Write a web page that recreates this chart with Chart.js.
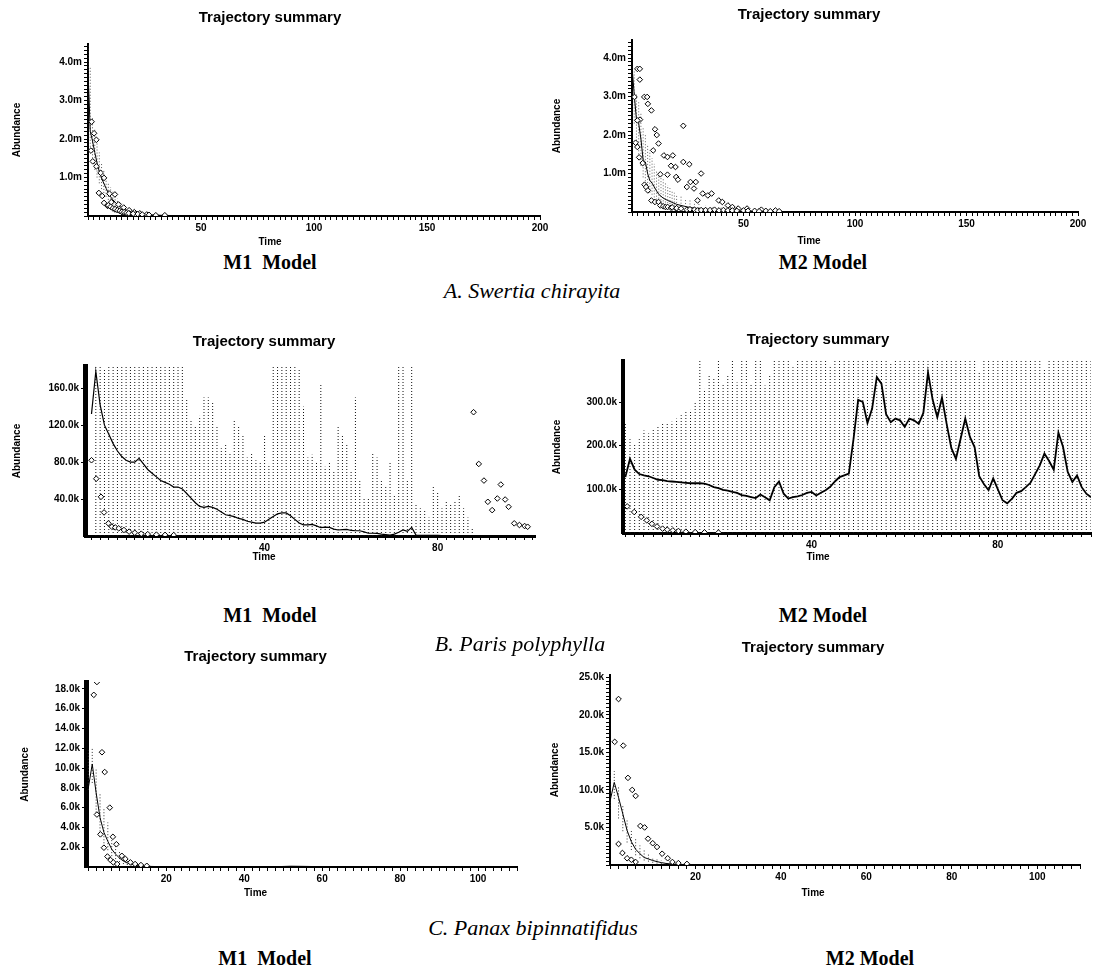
<!DOCTYPE html>
<html>
<head>
<meta charset="utf-8">
<title>Trajectory summary</title>
<script src="https://cdn.jsdelivr.net/npm/chart.js@4.4.1/dist/chart.umd.min.js"></script>
<style>
	html, body { margin: 0; padding: 0; background: #fff; }
	body { width: 1096px; height: 969px; position: relative; overflow: hidden; }
	canvas { position: absolute; }
	.cap { position: absolute; transform: translate(-50%, -50%); white-space: pre; color: #000;
		font-family: "Liberation Serif", "Times New Roman", serif; }
	.model { font-weight: bold; font-size: 20px; }
	.species { font-style: italic; font-size: 22px; }
</style>
</head>
<body>
<canvas id="a1"></canvas>
<canvas id="a2"></canvas>
<canvas id="b1"></canvas>
<canvas id="b2"></canvas>
<canvas id="c1"></canvas>
<canvas id="c2"></canvas>

<div class="cap model" style="left:270px;top:262px">M1  Model</div>
<div class="cap model" style="left:823px;top:262px">M2 Model</div>
<div class="cap species" style="left:532px;top:291px">A. Swertia chirayita</div>
<div class="cap model" style="left:270px;top:615px">M1  Model</div>
<div class="cap model" style="left:823px;top:615px">M2 Model</div>
<div class="cap species" style="left:520px;top:644px">B. Paris polyphylla</div>
<div class="cap species" style="left:533px;top:928px">C. Panax bipinnatifidus</div>
<div class="cap model" style="left:265px;top:958px">M1  Model</div>
<div class="cap model" style="left:870px;top:958px">M2 Model</div>

<script>
// ---- Swertia chirayita (abundance in millions) ----
// mean trajectory: [time, abundance]
const meanA1 = [[0,3.78],[1,2.2],[2,1.95],[3,1.65],[4,1.38],[5,1.15],[6,0.98],[7,0.85],[8,0.72],[9,0.6],
	[10,0.5],[11,0.42],[12,0.36],[13,0.3],[14,0.25],[15,0.21],[16,0.18],[17,0.15],[18,0.12],[19,0.1],
	[20,0.085],[22,0.06],[24,0.045],[26,0.035],[28,0.028],[30,0.022],[35,0.014],[40,0.01],[50,0.007],
	[60,0.006],[70,0.006],[80,0.008],[90,0.01],[100,0.006],[120,0.004],[140,0.004],[160,0.004],[180,0.004],[200,0.004]]
// spread between runs: [time, low, high]
const rangeA1 = [[0,3.0,4.45],[1,1.8,3.85],[2,1.5,2.55],[3,1.2,2.25],[4,1.0,1.95],[5,0.85,1.65],[6,0.7,1.4],
	[7,0.6,1.2],[8,0.5,1.02],[9,0.42,0.88],[10,0.35,0.75],[11,0.3,0.63],[12,0.25,0.53],[13,0.21,0.45],
	[14,0.18,0.38],[15,0.15,0.32],[16,0.13,0.27],[18,0.1,0.2],[20,0.07,0.14],[22,0.05,0.11],[25,0.035,0.07],[30,0.02,0.04]]
const obsA1 = [[1.6,2.45],[2.7,2.15],[3.7,1.98],[1.3,1.7],[2.1,1.42],[3.7,1.29],[5.6,1.12],[7.1,0.99],
	[4.8,0.6],[6.3,0.52],[9.5,0.58],[11.9,0.56],[10.3,0.36],[13.5,0.3],[15.8,0.22],[18.2,0.15],[20.5,0.1],
	[22.9,0.07],[26,0.04],[7.1,0.34],[8.7,0.26],[11.9,0.17],[15,0.1],[18.2,0.07],[21,0.04],
	[9,0.28],[10,0.24],[11,0.2],[12,0.18],[13,0.15],[14,0.13],[15,0.11],[16,0.1],[17,0.08],[18,0.07],
	[20,0.06],[22,0.05],[24,0.04],[27,0.03],[30,0.02],[34,0.02]]

const meanA2 = [[0,3.78],[1,3.05],[2,2.4],[3,2.3],[4,1.9],[5,1.35],[6,1.3],[7,1.0],[8,0.82],[9,0.75],
	[10,0.65],[11,0.55],[12,0.46],[14,0.36],[16,0.3],[18,0.25],[20,0.2],[22,0.17],[25,0.13],[28,0.1],
	[30,0.09],[35,0.06],[40,0.045],[45,0.03],[50,0.022],[55,0.016],[60,0.011],[70,0.006],[80,0.004],
	[100,0.003],[150,0.003],[200,0.003]]
const rangeA2 = [[1,2.3,3.7],[2,1.7,3.1],[3,1.5,2.9],[4,1.2,2.6],[5,0.9,2.2],[6,0.8,2.0],[7,0.6,1.75],
	[8,0.5,1.6],[9,0.45,1.4],[10,0.38,1.25],[11,0.32,1.1],[12,0.27,1.0],[13,0.23,0.9],[14,0.2,0.85],
	[15,0.17,0.75],[16,0.15,0.7],[17,0.13,0.62],[18,0.11,0.55],[19,0.09,0.5],[20,0.08,0.45],[22,0.06,0.4],
	[24,0.05,0.35],[26,0.04,0.3],[28,0.03,0.26],[30,0.025,0.22],[33,0.02,0.18],[36,0.015,0.15],
	[40,0.01,0.12],[45,0.008,0.09],[50,0.006,0.07],[55,0.004,0.05],[60,0.003,0.04]]
const obsA2 = [[2.4,3.72],[3.5,3.72],[3.5,3.44],[1.1,2.99],[5.5,2.99],[6.8,2.99],[7.1,2.81],[8.7,2.64],
	[3.6,2.4],[2.4,2.38],[10.3,2.15],[11.1,2.0],[11.9,1.78],[1.6,1.8],[2.4,1.69],[9.5,1.6],
	[3.2,1.42],[4.8,1.27],[14.3,1.47],[15.9,1.43],[18.3,1.47],[17.5,1.2],[19.5,1.17],[23,1.3],
	[25.7,1.24],[31,1.0],[23,2.24],[12.7,0.98],[15.9,0.97],[19.8,0.91],[20.6,0.84],[26.2,0.78],
	[28.6,0.78],[24.6,0.65],[27.8,0.61],[5.6,0.71],[6.3,0.65],[7.1,0.56],[31.7,0.48],[34,0.43],
	[35.7,0.48],[8.7,0.3],[10.3,0.26],[11.9,0.26],[38.9,0.3],[40.5,0.26],[29.4,0.3],[43,0.17],
	[45,0.13],[47.6,0.09],[51.6,0.09],[58,0.06],[64.3,0.04],
	[12.7,0.17],[14,0.15],[15,0.13],[16,0.13],[17.5,0.11],[18,0.12],[19.8,0.09],[20,0.1],[22,0.09],
	[24.6,0.06],[26,0.07],[28,0.06],[29.4,0.04],[31,0.05],[33,0.05],[35,0.05],[37,0.06],[39,0.04],
	[41,0.05],[43,0.04],[45,0.04],[47,0.03],[50,0.04],[52,0.03],[55,0.03],[57,0.02],[60,0.03],[62,0.02],[66,0.02]]

// ---- Paris polyphylla (abundance in thousands), one value per year from t = 0 ----
const meanB1 = [132,178,142,120,110,100,92,86,82,80,
	80,84,78,72,68,64,60,58,56,53,
	53,51,46,41,36,32,31,32,31,29,
	26,23,22,21,19,18,16,15,14,14,
	15,18,21,24,25,25,22,18,14,12,
	12,12.6,11,9,9.5,9.3,7.5,6.5,7,7.2,
	6,5.7,5.7,4.5,3,3,2.8,2,1.5,1,
	2,4,6.5,5,9.3,1,0.8,0.7,0.6,0.6,
	0.6,0.5,0.5,0.5,0.5,0.5,0.5,0.5,0.5,0.4,
	0.4,0.4,0.4,0.4,0.4,0.4,0.4,0.4,0.4,0.4,
	0.4]
// highest run per year, from t = 1
const rangeB1Hi = [190,190,180,190,190,185,190,190,190,190,
	190,190,190,190,190,190,190,190,190,190,
	190,148,125,120,130,150,150,145,120,95,
	100,90,125,120,110,85,90,82,80,110,
	78,190,190,190,190,190,190,180,140,85,
	88,80,165,75,80,70,120,110,100,70,
	150,60,40,42,90,85,60,55,80,45,
	190,185,60,185,35,30,28,20,55,48,
	30,38,35,38,45,30,20,8]
const obsB1 = [[0,82],[1.1,62],[2.2,42.4],[2.9,25.5],[3.9,13.7],[4.7,10],[5.5,9.3],[6.3,8.3],[7.5,6.5],
	[8.7,4.7],[10,3.5],[11.5,2.5],[13,2],[15,1.5],[17,1.2],[19,1],
	[88.3,134],[89.5,78],[90.7,60],[91.6,37],[92.6,28],[93.8,40.6],[94.6,55.7],[95.6,39.5],[96.4,31.6],
	[97.7,13.7],[98.9,11.9],[100.1,10.8],[100.8,10]]

const meanB2 = [128,170,145,135,132,130,126,122,121,119,
	118,117,116,115,114,114,114,113,110,105,
	103,99,97,94,92,87,85,82,80,88,
	82,75,105,118,90,79,82,84,87,92,
	94,86,92,98,106,118,128,132,136,215,
	305,300,252,285,357,342,272,254,262,258,
	243,262,258,250,275,368,305,265,310,250,
	195,170,216,262,220,197,130,112,98,125,
	100,75,68,78,92,96,105,115,135,155,
	182,165,145,230,197,140,117,132,105,90,
	82]
// highest run per year, from t = 0
const rangeB2Hi = [250,215,205,215,235,228,240,245,250,250,
	255,262,270,278,282,300,400,330,360,355,
	400,342,360,400,345,400,400,342,400,400,
	338,360,400,400,400,400,380,400,400,400,
	400,400,400,400,385,400,400,400,400,400,
	400,400,400,400,400,400,400,390,400,400,
	400,400,400,400,400,400,400,400,400,400,
	400,400,400,400,400,400,370,400,400,400,
	400,400,400,400,400,400,400,400,400,400,
	375,400,400,400,400,400,400,400,400,400,
	400]
const obsB2 = [[0.4,61],[1.9,48],[3.4,37],[4.6,29],[5.7,21],[6.8,15],[8,10],[9,7.6],[10.2,6],
	[11.4,4.6],[13,3],[15,2],[17,1.5],[20,1]]

// ---- Panax bipinnatifidus (abundance in thousands) ----
const meanC1 = [[0,8.0],[1,10.4],[2,7.5],[3,5.0],[4,3.5],[5,2.6],[6,1.8],[7,1.3],[8,0.9],[9,0.6],
	[10,0.4],[11,0.3],[12,0.2],[13,0.15],[14,0.1],[16,0.06],[18,0.04],[20,0.03],[25,0.02],[30,0.01],
	[40,0.01],[48,0.03],[52,0.08],[56,0.06],[60,0.03],[70,0.02],[80,0.02],[90,0.02],[100,0.02]]
const rangeC1 = [[0,7.8,11.8],[1,8.5,12],[2,5.5,10],[3,3.6,7.5],[4,2.4,6],[5,1.7,4.5],[6,1.1,3.2],
	[7,0.8,2.4],[8,0.5,1.6],[9,0.3,1.1],[10,0.2,0.8],[11,0.15,0.6],[12,0.1,0.4],[13,0.05,0.3],[14,0.03,0.2]]
const obsC1 = [[2.2,18.7],[1.4,17.4],[3.5,11.6],[4.2,9.6],[2.2,5.3],[5.5,6.0],[3.1,3.3],[6.3,3.05],
	[7.2,2.3],[4,1.95],[4.9,1.06],[8.6,1.13],[9.5,0.82],[10.8,0.47],[5.7,0.7],[6.4,0.47],[7.4,0.3],
	[12,0.3],[13.5,0.2],[15,0.12]]

const meanC2 = [[0,8.5],[1,11.0],[2,9.0],[3,6.8],[4,4.6],[5,3.1],[6,2.1],[7,1.5],[8,1.0],[9,0.8],
	[10,0.6],[11,0.45],[12,0.32],[13,0.22],[14,0.15],[15,0.1],[16,0.07],[18,0.05],[20,0.03],[25,0.02],
	[30,0.01],[40,0.01],[60,0.01],[80,0.01],[100,0.01]]
const rangeC2 = [[0,7.5,12.5],[1,8.8,12.5],[2,6.2,10.5],[3,4.5,8.0],[4,3.0,6.2],[5,2.0,4.8],[6,1.3,3.5],
	[7,0.9,2.6],[8,0.6,2.0],[9,0.45,1.5],[10,0.3,1.1],[11,0.2,0.8],[12,0.15,0.6],[13,0.1,0.4],
	[14,0.06,0.3],[16,0.04,0.2],[18,0.02,0.1]]
const obsC2 = [[2,22.1],[1.1,16.4],[3.1,15.9],[4.2,11.6],[5.2,10],[6,9.2],[7.1,5.2],[8.1,5.0],[2,2.8],
	[8.9,3.5],[10,2.9],[11,2.4],[12.2,1.5],[13.5,0.9],[2.9,1.6],[4,0.9],[5,0.7],[6,0.4],[14.6,0.4],
	[16,0.25],[18,0.15]]

// labelled tick values
const xMajorA = [50, 100, 150, 200],
	yMajorA = [1, 2, 3, 4],
	xMajorB = [40, 80],
	yMajorB1 = [40, 80, 120, 160],
	yMajorB2 = [100, 200, 300],
	xMajorC = [20, 40, 60, 80, 100],
	yMajorC1 = [2, 4, 6, 8, 10, 12, 14, 16, 18],
	yMajorC2 = [5, 10, 15, 20, 25]

const d = document
Chart.defaults.font.family = '"Liberation Sans", Arial, sans-serif'
Chart.defaults.color = '#000'

function ticksFor(min, max, step, majors) {
	if (!step) return majors.slice()
	const out = []
	for (let k = Math.ceil(min / step); k * step <= max + 1e-9; k++) out.push(+(k * step).toFixed(3))
	return out
}

const pairs = rows => rows.map(([x, y]) => ({ x, y })),
	perYear = (vals, start) => vals.map((y, i) => ({ x: i + start, y })),
	segments = rows => rows.flatMap(([t, lo, hi]) => [{ x: t, y: lo }, { x: t, y: hi }, { x: t, y: null }])

function drawPanel(id, frame, axes, series) {
	const $canvas = d.getElementById(id),
		top = frame.titleY - 9,
		bottom = frame.timeY + 6,
		height = bottom - top,
		yWidth = frame.plot.left - frame.left,
		xHeight = bottom - 12 - frame.plot.bottom,
		rightPad = frame.left + frame.width - frame.plot.right,
		xTicks = ticksFor(axes.x[0], axes.x[1], axes.xMinor, axes.xMajor),
		yTicks = ticksFor(axes.y[0], axes.y[1], axes.yMinor, axes.yMajor)

	$canvas.width = frame.width
	$canvas.height = height
	Object.assign($canvas.style, {
		left: frame.left + 'px', top: top + 'px', width: frame.width + 'px', height: height + 'px'
	})

	const tickFont = { size: 10, weight: 'bold' }
	new Chart($canvas, {
		type: 'scatter',
		data: {
			datasets: [
				{ data: pairs(series.obs), pointStyle: 'rectRot', pointRadius: 2.8, borderWidth: 1,
					borderColor: '#000', backgroundColor: '#fff', showLine: false },
				{ data: series.mean, showLine: true, pointRadius: 0, borderColor: '#000',
					borderWidth: series.meanWidth || 1, tension: 0 },
				{ data: segments(series.range), showLine: true, spanGaps: false, pointRadius: 0,
					borderColor: series.rangeColor, borderWidth: 1, borderDash: [1, 2] }
			]
		},
		options: {
			responsive: false,
			animation: false,
			devicePixelRatio: 1,
			layout: { padding: { left: 0, top: 0, bottom: 0, right: rightPad } },
			plugins: {
				legend: { display: false },
				tooltip: { enabled: false },
				title: {
					display: true, text: 'Trajectory summary', color: '#000',
					font: { size: 15, weight: 'bold' },
					padding: { top: 0, bottom: frame.plot.top - top - 18 }
				},
				subtitle: {
					display: true, position: 'bottom', text: 'Time', color: '#000',
					font: { size: 10, weight: 'bold' }, padding: 0
				}
			},
			scales: {
				x: {
					type: 'linear', min: axes.x[0], max: axes.x[1],
					afterBuildTicks: s => { s.ticks = xTicks.map(value => ({ value })) },
					afterFit: s => { s.height = xHeight; s.paddingLeft = 0; s.paddingRight = 0 },
					ticks: {
						autoSkip: false, maxRotation: 0, padding: 2, font: tickFont, color: '#000',
						callback: v => axes.xMajor.includes(v) ? String(v) : ''
					},
					grid: { drawOnChartArea: false, tickLength: 4, tickColor: '#000' },
					border: { color: '#000', width: axes.xBorder }
				},
				y: {
					type: 'linear', min: axes.y[0], max: axes.y[1],
					afterBuildTicks: s => { s.ticks = yTicks.map(value => ({ value })) },
					afterFit: s => { s.width = yWidth; s.paddingTop = 0; s.paddingBottom = 0 },
					ticks: {
						autoSkip: false, padding: 2, font: tickFont, color: '#000',
						callback: v => axes.yMajor.includes(v) ? v.toFixed(1) + axes.unit : ''
					},
					grid: { drawOnChartArea: false, tickLength: 4, tickColor: '#000' },
					border: { color: '#000', width: axes.yBorder },
					title: {
						display: true, text: 'Abundance', color: '#000',
						font: { size: 10, weight: 'bold' },
						padding: { top: frame.abX - frame.left - 6, bottom: 0 }
					}
				}
			}
		}
	})
}

drawPanel('a1',
	{ left: 0, width: 550, titleY: 18, timeY: 242, abX: 17, plot: { left: 88, top: 44, right: 540, bottom: 216 } },
	{ x: [0, 200], y: [0, 4.47], xMinor: 2.5, yMinor: 0.1, xMajor: xMajorA, yMajor: yMajorA, unit: 'm', xBorder: 2, yBorder: 2 },
	{ obs: obsA1, mean: pairs(meanA1), range: rangeA1, rangeColor: '#555' })

drawPanel('a2',
	{ left: 540, width: 550, titleY: 15, timeY: 241, abX: 557, plot: { left: 632, top: 40, right: 1078, bottom: 212 } },
	{ x: [0, 200], y: [0, 4.47], xMinor: 2.5, yMinor: 0.1, xMajor: xMajorA, yMajor: yMajorA, unit: 'm', xBorder: 2, yBorder: 2 },
	{ obs: obsA2, mean: pairs(meanA2), range: rangeA2, rangeColor: '#666' })

drawPanel('b1',
	{ left: -10, width: 550, titleY: 342, timeY: 557, abX: 17, plot: { left: 85, top: 366, right: 538, bottom: 536 } },
	{ x: [-1.5, 102.5], y: [0, 184], xMinor: 2, yMinor: null, xMajor: xMajorB, yMajor: yMajorB1, unit: 'k', xBorder: 3, yBorder: 5 },
	{ obs: obsB1, mean: perYear(meanB1, 0), range: rangeB1Hi.map((hi, i) => [i + 1, 0, hi]), rangeColor: '#111', meanWidth: 1.2 })

drawPanel('b2',
	{ left: 540, width: 556, titleY: 340, timeY: 557, abX: 557, plot: { left: 623, top: 361, right: 1096, bottom: 533 } },
	{ x: [-0.5, 100], y: [0, 394], xMinor: 2, yMinor: null, xMajor: xMajorB, yMajor: yMajorB2, unit: 'k', xBorder: 3, yBorder: 4 },
	{ obs: obsB2, mean: perYear(meanB2, 0), range: rangeB2Hi.map((hi, i) => [i, 0, hi]), rangeColor: '#111', meanWidth: 1.8 })

drawPanel('c1',
	{ left: -6, width: 536, titleY: 657, timeY: 893, abX: 25, plot: { left: 86, top: 682, right: 517, bottom: 867 } },
	{ x: [-0.6, 110], y: [0, 18.7], xMinor: 2, yMinor: null, xMajor: xMajorC, yMajor: yMajorC1, unit: 'k', xBorder: 2, yBorder: 5 },
	{ obs: obsC1, mean: pairs(meanC1), range: rangeC1, rangeColor: '#333' })

drawPanel('c2',
	{ left: 546, width: 544, titleY: 648, timeY: 893, abX: 555, plot: { left: 610, top: 675, right: 1080, bottom: 865 } },
	{ x: [0, 110], y: [0, 25.3], xMinor: 2, yMinor: 0.5, xMajor: xMajorC, yMajor: yMajorC2, unit: 'k', xBorder: 2, yBorder: 2 },
	{ obs: obsC2, mean: pairs(meanC2), range: rangeC2, rangeColor: '#333' })
</script>
</body>
</html>
